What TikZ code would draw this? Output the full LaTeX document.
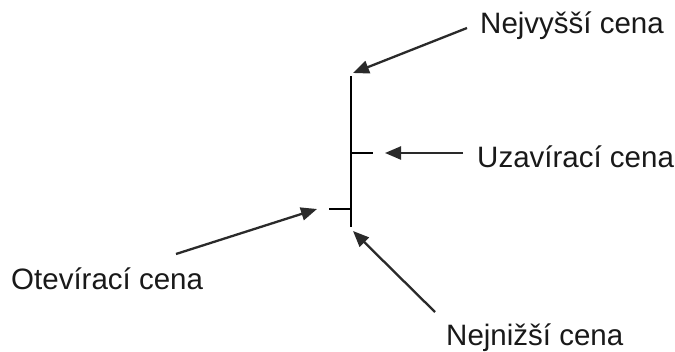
\documentclass[tikz,border=0pt]{standalone}
\usepackage{fontspec}
\setmainfont{Liberation Sans}
\usetikzlibrary{arrows.meta}
\definecolor{arrowgray}{HTML}{2A2A2A}
\tikzset{
  lbl/.style={anchor=base west, inner sep=0pt, font=\fontsize{29.5}{31}\selectfont, text=black!90},
  pointer/.style={draw=arrowgray, line width=2.3pt, -{Triangle[length=16pt,width=13pt]}},
  candle/.style={draw=black, line width=2pt}
}
\begin{document}
\begin{tikzpicture}[x=1pt,y=-1pt]
\useasboundingbox (0,0) rectangle (675,351);
\fill[white] (0,0) rectangle (675,351);
% candle
\coordinate (top) at (351,76);
\coordinate (bot) at (351,227);
\coordinate (closeL) at (351,153);
\coordinate (closeR) at (373,153);
\coordinate (openL) at (329,209);
\coordinate (openR) at (351,209);
\draw[candle] (top) -- (bot);
\draw[candle] (closeL) -- (closeR);
\draw[candle] (openL) -- (openR);
% labels
\node[lbl] (high) at (480,33) {Nejvyšší cena};
\node[lbl] (close) at (477,167) {Uzavírací cena};
\node[lbl] (open) at (11,289) {Otevírací cena};
\node[lbl] (low) at (446,345) {Nejnižší cena};
% arrow ends
\coordinate (highT) at (467,28);
\coordinate (highH) at (353,73);
\coordinate (closeT) at (463,153);
\coordinate (closeH) at (385,153);
\coordinate (openT) at (176,254);
\coordinate (openH) at (317,209);
\coordinate (lowT) at (435,312);
\coordinate (lowH) at (353,231);
\draw[pointer] (highT) -- (highH);
\draw[pointer] (closeT) -- (closeH);
\draw[pointer] (openT) -- (openH);
\draw[pointer] (lowT) -- (lowH);
\end{tikzpicture}
\end{document}
